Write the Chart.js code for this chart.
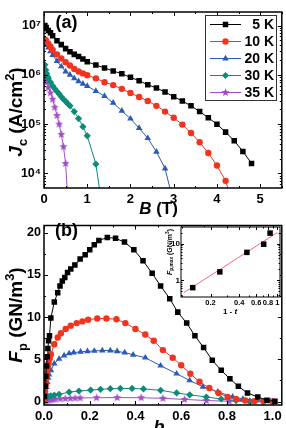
<!DOCTYPE html>
<html>
<head>
<meta charset="utf-8">
<script src="https://cdn.jsdelivr.net/npm/chart.js@4.4.1/dist/chart.umd.min.js"></script>
<style>
  html, body { margin: 0; padding: 0; background: #fff; overflow: hidden; }
  #fig { position: relative; width: 286px; height: 428px; overflow: hidden; }
  #fig canvas { position: absolute; }
</style>
</head>
<body>
<div id="fig">
  <canvas id="jcPlot" width="286" height="222" style="left:0;top:0"></canvas>
  <canvas id="fpPlot" width="286" height="225" style="left:0;top:215px"></canvas>
  <canvas id="insetPlot" width="136" height="110" style="left:150px;top:215px"></canvas>
</div>
<script>
const FONT = '"Liberation Sans", Arial, Helvetica, sans-serif';

const tempLabels = ['5 K', '10 K', '20 K', '30 K', '35 K'];
const tempColors = ['#000000', '#f0341f', '#2a5cb4', '#0b8b79', '#a44ec6'];
const tempMarkers = ['rect', 'circle', 'triangle', 'rectRot', 'star'];
const markerRadius = [3.9, 3.2, 3.8, 3.6, 4.2];

// (a) Jc vs B
const field5K = [0.02, 0.05, 0.1, 0.15, 0.2, 0.3, 0.4, 0.5, 0.6, 0.7, 0.8, 0.9, 1.0, 1.2, 1.4, 1.6, 1.8, 2.0, 2.2, 2.4, 2.6, 2.8, 3.0, 3.2, 3.4, 3.6, 3.8, 4.0, 4.2, 4.4, 4.6, 4.8];
const jc5K = [1.0e7, 9.1e6, 7.9e6, 7.1e6, 6.2e6, 4.9e6, 4.1e6, 3.4e6, 2.95e6, 2.6e6, 2.35e6, 2.1e6, 1.85e6, 1.58e6, 1.38e6, 1.2e6, 1.05e6, 8.9e5, 7.6e5, 6.3e5, 5.4e5, 4.5e5, 3.6e5, 2.95e5, 2.35e5, 1.8e5, 1.35e5, 1.0e5, 6.9e4, 4.6e4, 2.8e4, 1.6e4];
const field10K = [0.02, 0.05, 0.1, 0.15, 0.2, 0.3, 0.4, 0.5, 0.6, 0.7, 0.8, 0.9, 1.0, 1.2, 1.4, 1.6, 1.8, 2.0, 2.2, 2.4, 2.6, 2.8, 3.0, 3.2, 3.4, 3.6, 3.8, 4.0, 4.2, 4.4];
const jc10K = [5.2e6, 4.9e6, 4.3e6, 3.7e6, 3.2e6, 2.6e6, 2.15e6, 1.8e6, 1.55e6, 1.32e6, 1.17e6, 1.07e6, 9.8e5, 8.5e5, 7.1e5, 6.2e5, 5.2e5, 4.3e5, 3.55e5, 2.95e5, 2.35e5, 1.8e5, 1.35e5, 9.8e4, 6.6e4, 4.3e4, 2.6e4, 1.45e4, 7.1e3, 2.0e3];
const field20K = [0.02, 0.05, 0.1, 0.15, 0.2, 0.3, 0.4, 0.5, 0.6, 0.7, 0.8, 0.9, 1.0, 1.2, 1.4, 1.6, 1.8, 2.0, 2.2, 2.4, 2.6, 2.8, 3.0];
const jc20K = [4.4e6, 4.0e6, 3.55e6, 3.0e6, 2.5e6, 1.9e6, 1.48e6, 1.17e6, 1.0e6, 8.5e5, 7.4e5, 6.6e5, 5.9e5, 4.7e5, 3.7e5, 2.7e5, 1.86e5, 1.29e5, 8.3e4, 5.2e4, 2.75e4, 1.26e4, 2.5e3];
const field30K = [0.02, 0.04, 0.06, 0.08, 0.1, 0.15, 0.2, 0.25, 0.3, 0.35, 0.4, 0.45, 0.5, 0.55, 0.6, 0.7, 0.8, 0.9, 1.0, 1.2, 1.4];
const jc30K = [1.6e6, 1.26e6, 1.07e6, 9.3e5, 8.5e5, 7.1e5, 6.0e5, 5.2e5, 4.6e5, 4.1e5, 3.6e5, 3.2e5, 2.9e5, 2.6e5, 2.35e5, 1.8e5, 1.3e5, 8.9e4, 5.8e4, 1.55e4, 1.0e3];
const field35K = [0.01, 0.02, 0.03, 0.05, 0.1, 0.15, 0.2, 0.25, 0.3, 0.35, 0.4, 0.45, 0.5, 0.55];
const jc35K = [8.3e5, 7.9e5, 7.6e5, 7.1e5, 5.5e5, 4.3e5, 3.2e5, 2.2e5, 1.5e5, 1.0e5, 6.2e4, 3.5e4, 1.6e4, 3.2e3];

// (b) Fp vs reduced field b
const b5K = [0.002, 0.005, 0.008, 0.011, 0.014, 0.017, 0.02, 0.024, 0.03, 0.045, 0.06, 0.07, 0.08, 0.091, 0.103, 0.117, 0.135, 0.158, 0.18, 0.2, 0.22, 0.24, 0.277, 0.313, 0.352, 0.393, 0.433, 0.473, 0.51, 0.55, 0.585, 0.624, 0.66, 0.698, 0.736, 0.775, 0.813, 0.85, 0.89, 0.935, 0.975, 1.01];
const fp5K = [0.6, 1.8, 3.0, 4.2, 5.3, 6.3, 7.2, 7.8, 9.9, 11.8, 12.9, 13.7, 14.3, 14.7, 15.3, 15.7, 16.2, 16.9, 17.4, 18.0, 18.6, 19.1, 19.45, 19.35, 18.9, 18.0, 16.7, 15.2, 13.7, 12.2, 10.6, 9.3, 7.8, 6.4, 4.9, 3.7, 2.7, 1.8, 1.0, 0.55, 0.15, 0.03];
const b10K = [0.002, 0.005, 0.008, 0.011, 0.014, 0.017, 0.02, 0.025, 0.03, 0.045, 0.06, 0.074, 0.095, 0.117, 0.143, 0.168, 0.193, 0.233, 0.273, 0.317, 0.356, 0.4, 0.443, 0.48, 0.52, 0.563, 0.6, 0.64, 0.68, 0.723, 0.764, 0.803, 0.84, 0.88, 0.92, 0.96, 1.0];
const fp10K = [0.3, 1.2, 2.0, 2.8, 3.5, 4.1, 4.6, 5.1, 5.6, 6.8, 7.6, 8.1, 8.6, 9.0, 9.3, 9.5, 9.7, 9.85, 9.85, 9.75, 9.3, 8.6, 7.95, 7.2, 6.1, 5.2, 4.3, 3.3, 2.35, 1.6, 1.0, 0.55, 0.3, 0.12, 0.05, 0.02, 0.01];
const b20K = [0.002, 0.006, 0.01, 0.014, 0.018, 0.022, 0.03, 0.045, 0.066, 0.088, 0.11, 0.13, 0.16, 0.19, 0.22, 0.255, 0.29, 0.32, 0.353, 0.39, 0.443, 0.51, 0.58, 0.637, 0.695, 0.76, 0.825, 0.87, 0.93, 0.99];
const fp20K = [0.3, 1.0, 1.7, 2.3, 2.8, 3.2, 3.7, 4.5, 5.05, 5.45, 5.7, 5.8, 5.9, 5.95, 6.0, 6.05, 6.05, 5.95, 5.8, 5.55, 5.2, 4.25, 3.3, 2.5, 1.75, 1.15, 0.57, 0.3, 0.1, 0.03];
const b30K = [0.003, 0.008, 0.013, 0.02, 0.03, 0.045, 0.066, 0.11, 0.153, 0.204, 0.247, 0.29, 0.334, 0.385, 0.435, 0.51, 0.58, 0.637, 0.71, 0.775, 0.84, 0.9, 0.96];
const fp30K = [0.15, 0.35, 0.5, 0.6, 0.68, 0.75, 0.85, 1.12, 1.25, 1.36, 1.45, 1.52, 1.55, 1.55, 1.5, 1.33, 1.02, 0.8, 0.54, 0.3, 0.12, 0.04, 0.01];
const b35K = [0.005, 0.01, 0.02, 0.03, 0.04, 0.05, 0.071, 0.093, 0.115, 0.136, 0.158, 0.23, 0.32, 0.425, 0.52, 0.615, 0.71, 0.81, 0.9];
const fp35K = [0.05, 0.1, 0.15, 0.2, 0.25, 0.28, 0.32, 0.35, 0.38, 0.4, 0.42, 0.45, 0.47, 0.45, 0.38, 0.25, 0.12, 0.03, 0.01];

// inset: Fp,max vs 1 - t
const oneMinusT = [0.13, 0.25, 0.48, 0.72, 0.84];
const fpMax = [0.63, 1.7, 5.8, 9.7, 19.5];
const fitOneMinusT = [0.105, 1.0];
const fitFpMax = [0.46, 20.2];

// tick marks
const jcMajor = [1e4, 1e5, 1e6, 1e7];
const fieldMajor = [0, 1, 2, 3, 4, 5];
const bMajor = [0, 0.2, 0.4, 0.6, 0.8, 1.0];
const fpMajor = [0, 5, 10, 15, 20];
const insetXMajor = [0.2, 0.4, 0.6, 0.8, 1];
const insetYMajor = [1, 10];

const SUP = { '3': '\u00b3', '4': '\u2074', '5': '\u2075', '6': '\u2076', '7': '\u2077' };

function linearTicks(majors, step, lo, hi) {
  const out = [];
  for (let k = Math.ceil(lo / step - 1e-9); k * step <= hi + 1e-9; k++) {
    const v = +(k * step).toFixed(6);
    out.push({ value: v, major: majors.some(m => Math.abs(m - v) < 1e-9) });
  }
  return out;
}
function logTicks(majors, lo, hi) {
  const out = [];
  for (let d = Math.floor(Math.log10(lo)); d <= Math.ceil(Math.log10(hi)); d++) {
    for (let k = 1; k <= 9; k++) {
      const v = +(k * Math.pow(10, d)).toPrecision(6);
      if (v >= lo && v <= hi) out.push({ value: v, major: majors.includes(v) });
    }
  }
  return out;
}

function starImage(color, r) {
  const c = document.createElement('canvas');
  const s = Math.ceil(r * 2 + 2);
  c.width = s; c.height = s;
  const g = c.getContext('2d');
  g.fillStyle = color;
  g.beginPath();
  for (let i = 0; i < 10; i++) {
    const a = -Math.PI / 2 + i * Math.PI / 5;
    const rr = i % 2 ? r * 0.45 : r;
    g.lineTo(s / 2 + rr * Math.cos(a), s / 2 + rr * Math.sin(a));
  }
  g.closePath();
  g.fill();
  return c;
}
const starMark = starImage(tempColors[4], markerRadius[4]);

function drawMarker(ctx, style, x, y, color, r) {
  if (style === 'star') { ctx.drawImage(starMark, x - starMark.width / 2, y - starMark.height / 2); return; }
  ctx.fillStyle = color;
  ctx.beginPath();
  if (style === 'rect') { const s = Math.SQRT1_2 * r; ctx.rect(x - s, y - s, 2 * s, 2 * s); }
  else if (style === 'circle') ctx.arc(x, y, r, 0, 2 * Math.PI);
  else if (style === 'triangle') { ctx.moveTo(x, y - r); ctx.lineTo(x + 0.866 * r, y + 0.5 * r); ctx.lineTo(x - 0.866 * r, y + 0.5 * r); ctx.closePath(); }
  else if (style === 'rectRot') { ctx.moveTo(x - r, y); ctx.lineTo(x, y - r); ctx.lineTo(x + r, y); ctx.lineTo(x, y + r); ctx.closePath(); }
  ctx.fill();
}

// text made of plain / italic / sub / sup pieces, centred on (cx, cy)
function drawRich(ctx, segs, cx, cy, size, rot) {
  ctx.save();
  ctx.translate(cx, cy);
  if (rot) ctx.rotate(rot);
  let w = 0;
  const parts = segs.map(s => {
    const fs = s.sub || s.sup ? size * 0.68 : size;
    const font = (s.it ? 'italic ' : '') + 'bold ' + fs + 'px ' + FONT;
    ctx.font = font;
    const m = ctx.measureText(s.t).width;
    w += m;
    return { s, font, m };
  });
  let x = -w / 2;
  ctx.fillStyle = '#000';
  ctx.textBaseline = 'alphabetic';
  ctx.textAlign = 'left';
  for (const p of parts) {
    ctx.font = p.font;
    const dy = p.s.sub ? size * 0.28 : p.s.sup ? -size * 0.42 : 0;
    ctx.fillText(p.s.t, x, size * 0.36 + dy);
    x += p.m;
  }
  ctx.restore();
}

// box with inward ticks on all four sides
const framePlugin = {
  id: 'frame',
  afterDatasetsDraw(chart, args, opts) {
    const { ctx, chartArea: a } = chart;
    ctx.save();
    ctx.strokeStyle = '#000';
    ctx.lineWidth = opts.lw;
    ctx.strokeRect(a.left, a.top, a.right - a.left, a.bottom - a.top);
    ctx.lineWidth = 1;
    ['x', 'y'].forEach(id => {
      const sc = chart.scales[id];
      sc.ticks.forEach(t => {
        const len = t.major ? opts.major : opts.minor;
        const p = Math.round(sc.getPixelForValue(t.value)) + 0.5;
        ctx.beginPath();
        if (id === 'x') {
          ctx.moveTo(p, a.bottom); ctx.lineTo(p, a.bottom - len);
          ctx.moveTo(p, a.top); ctx.lineTo(p, a.top + len);
        } else {
          ctx.moveTo(a.left, p); ctx.lineTo(a.left + len, p);
          ctx.moveTo(a.right, p); ctx.lineTo(a.right - len, p);
        }
        ctx.stroke();
      });
    });
    ctx.restore();
  }
};

function axis(type, min, max, ticks, fmt, size, pad, fit) {
  return {
    type, min, max, bounds: 'data',
    grid: { display: false, drawTicks: false },
    border: { display: false },
    afterBuildTicks: s => { s.ticks = ticks.map(t => ({ ...t })); },
    afterFit: fit,
    ticks: {
      autoSkip: false, maxRotation: 0, padding: pad, color: '#000',
      font: { family: FONT, size, weight: 'bold' },
      callback: (v, i, t) => (t[i] && t[i].major ? fmt(v) : '')
    }
  };
}

function series(xs, ys, i) {
  return {
    label: tempLabels[i],
    data: xs.map((x, k) => ({ x, y: ys[k] })),
    showLine: true,
    borderColor: tempColors[i],
    borderWidth: 1,
    backgroundColor: tempColors[i],
    pointStyle: tempMarkers[i] === 'star' ? starMark : tempMarkers[i],
    pointRadius: markerRadius[i],
    pointBorderWidth: 0
  };
}

const baseOpts = { responsive: false, animation: false, events: [] };

// panel (a)
const jcText = {
  id: 'jcText',
  afterDraw(chart) {
    const ctx = chart.ctx;
    drawRich(ctx, [{ t: '(a)' }], 66.5, 22, 18);
    drawRich(ctx, [{ t: 'J', it: 1 }, { t: 'c', sub: 1 }, { t: ' (A/cm' }, { t: '2', sup: 1 }, { t: ')' }], 15, 112, 19, -Math.PI / 2);
    drawRich(ctx, [{ t: 'B', it: 1 }, { t: ' (T)' }], 158.5, 208, 17);
    ctx.save();
    ctx.strokeStyle = '#333';
    ctx.lineWidth = 1;
    ctx.strokeRect(205.5, 15.5, 71, 85);
    tempLabels.forEach((lab, i) => {
      const y = 24 + i * 17;
      ctx.strokeStyle = tempColors[i];
      ctx.beginPath(); ctx.moveTo(210, y + 0.5); ctx.lineTo(241, y + 0.5); ctx.stroke();
      drawMarker(ctx, tempMarkers[i], 225.5, y + 0.5, tempColors[i], markerRadius[i]);
      ctx.fillStyle = '#000';
      ctx.font = 'bold 14px ' + FONT;
      ctx.textAlign = 'right';
      ctx.textBaseline = 'middle';
      ctx.fillText(lab, 274, y + 1);
    });
    ctx.restore();
  }
};

new Chart(document.getElementById('jcPlot'), {
  type: 'scatter',
  data: {
    datasets: [
      series(field5K, jc5K, 0), series(field10K, jc10K, 1), series(field20K, jc20K, 2),
      series(field30K, jc30K, 3), series(field35K, jc35K, 4)
    ]
  },
  options: {
    ...baseOpts,
    layout: { padding: { top: 12, right: 3, left: 0, bottom: 0 } },
    plugins: { legend: { display: false }, tooltip: { enabled: false }, frame: { lw: 1.5, major: 4, minor: 2 } },
    scales: {
      x: axis('linear', 0, 5.5, linearTicks(fieldMajor, 0.5, 0, 5.5), v => String(v), 13, 4, s => { s.height = 34; }),
      y: axis('logarithmic', 5.08e3, 1.88e7, logTicks(jcMajor, 5.08e3, 1.88e7),
        v => '10' + SUP[String(Math.round(Math.log10(v)))], 12.5, 3, s => { s.width = 44; })
    }
  },
  plugins: [framePlugin, jcText]
});

// panel (b)
const fpText = {
  id: 'fpText',
  afterDraw(chart) {
    const ctx = chart.ctx;
    drawRich(ctx, [{ t: '(b)' }], 66.5, 15, 18);
    drawRich(ctx, [{ t: 'F', it: 1 }, { t: 'p', sub: 1 }, { t: ' (GN/m' }, { t: '3', sup: 1 }, { t: ')' }], 15, 100, 19, -Math.PI / 2);
    drawRich(ctx, [{ t: 'b', it: 1 }], 159, 212, 18);
  }
};

new Chart(document.getElementById('fpPlot'), {
  type: 'scatter',
  data: {
    datasets: [
      series(b5K, fp5K, 0), series(b10K, fp10K, 1), series(b20K, fp20K, 2),
      series(b30K, fp30K, 3), series(b35K, fp35K, 4)
    ]
  },
  options: {
    ...baseOpts,
    layout: { padding: { top: 7, right: 3, left: 0, bottom: 0 } },
    plugins: { legend: { display: false }, tooltip: { enabled: false }, frame: { lw: 1.5, major: 4, minor: 2 } },
    scales: {
      x: axis('linear', 0, 1.04, linearTicks(bMajor, 0.1, 0, 1.04), v => v.toFixed(1), 13, 4, s => { s.height = 35; }),
      y: axis('linear', -0.41, 20.87, linearTicks(fpMajor, 2.5, 0, 20.87), v => String(v), 12.5, 3, s => { s.width = 44; })
    }
  },
  plugins: [framePlugin, fpText]
});

// inset
const insetText = {
  id: 'insetText',
  beforeDatasetsDraw(chart) {
    const { ctx, chartArea: a } = chart;
    ctx.save();
    ctx.fillStyle = '#fff';
    ctx.fillRect(a.left, a.top, a.right - a.left, a.bottom - a.top);
    ctx.restore();
  },
  afterDraw(chart) {
    const ctx = chart.ctx;
    drawRich(ctx, [{ t: 'F', it: 1 }, { t: 'p,max', sub: 1 }, { t: ' (GN/m' }, { t: '3', sup: 1 }, { t: ')' }], 19, 37, 7, -Math.PI / 2);
    drawRich(ctx, [{ t: '1 - ' }, { t: 't', it: 1 }], 80, 96, 8);
  }
};

new Chart(document.getElementById('insetPlot'), {
  type: 'scatter',
  data: {
    datasets: [
      {
        data: oneMinusT.map((x, k) => ({ x, y: fpMax[k] })),
        showLine: false, pointStyle: 'rect', pointRadius: 3.9, pointBorderWidth: 0,
        backgroundColor: '#000', borderColor: '#000'
      },
      {
        data: fitOneMinusT.map((x, k) => ({ x, y: fitFpMax[k] })),
        showLine: true, pointRadius: 0, borderColor: '#f06a7a', borderWidth: 1
      }
    ]
  },
  options: {
    ...baseOpts,
    layout: { padding: { top: 12, right: 6, left: 0, bottom: 0 } },
    plugins: { legend: { display: false }, tooltip: { enabled: false }, frame: { lw: 1, major: 3, minor: 1.5 } },
    scales: {
      x: axis('logarithmic', 0.098, 1.067, logTicks(insetXMajor, 0.098, 1.067), v => (v === 1 ? '1' : v.toFixed(1)), 7.5, 1, s => { s.height = 28; }),
      y: axis('logarithmic', 0.35, 28.6, logTicks(insetYMajor, 0.35, 28.6), v => String(v), 8, 1, s => { s.width = 31; })
    }
  },
  plugins: [framePlugin, insetText]
});
</script>
</body>
</html>
